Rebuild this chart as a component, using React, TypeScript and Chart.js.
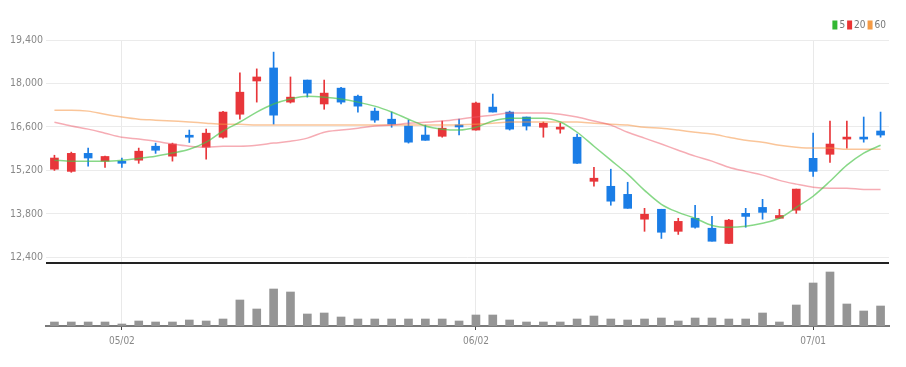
import React, { useEffect, useRef } from 'react';
import { Chart, registerables } from 'chart.js';

Chart.register(...registerables);

// ---- data ----
const dates = [
  '04/26', '04/27', '04/28', '04/29', '05/02', '05/03', '05/04', '05/06', '05/09', '05/10',
  '05/11', '05/12', '05/13', '05/16', '05/17', '05/18', '05/19', '05/20', '05/23', '05/24',
  '05/25', '05/26', '05/27', '05/30', '05/31', '06/02', '06/03', '06/07', '06/08', '06/09',
  '06/10', '06/13', '06/14', '06/15', '06/16', '06/17', '06/20', '06/21', '06/22', '06/23',
  '06/24', '06/27', '06/28', '06/29', '06/30', '07/01', '07/04', '07/05', '07/06', '07/07',
];
const shownDates = ['05/02', '06/02', '07/01'];
const priceTicks = [12400, 13800, 15200, 16600, 18000, 19400];

const open = [15240, 15170, 15750, 15500, 15500, 15530, 15980, 15660, 16320, 15950, 16270, 17010, 18080, 18500, 17400, 18110, 17340, 17850, 17590, 17110, 16850, 16630, 16340, 16300, 16660, 16500, 17240, 17080, 16920, 16590, 16530, 16270, 14850, 14690, 14430, 13630, 13950, 13240, 13660, 13340, 12850, 13820, 14010, 13660, 13920, 15590, 15720, 16210, 16270, 16470];
const high = [15690, 15790, 15920, 15660, 15600, 15920, 16080, 16080, 16500, 16530, 17100, 18340, 18470, 19010, 18210, 18110, 18110, 17880, 17630, 17210, 17080, 16820, 16660, 16790, 16850, 17400, 17660, 17110, 16920, 16760, 16720, 16370, 15300, 15240, 14820, 13980, 13950, 13660, 14080, 13720, 13630, 13980, 14270, 13950, 14600, 16400, 16790, 16790, 16920, 17080];
const low = [15200, 15140, 15340, 15300, 15300, 15430, 15750, 15500, 16100, 15560, 16240, 16850, 17400, 16690, 17370, 17560, 17170, 17340, 17080, 16750, 16590, 16080, 16170, 16270, 16340, 16500, 17080, 16500, 16500, 16270, 16400, 15430, 14690, 14080, 13980, 13240, 13010, 13140, 13340, 12920, 12850, 13370, 13630, 13660, 13820, 15010, 15460, 15920, 16110, 16270];
const close = [15600, 15750, 15600, 15650, 15430, 15820, 15850, 16050, 16270, 16400, 17080, 17720, 18210, 16980, 17560, 17690, 17690, 17400, 17270, 16820, 16690, 16110, 16170, 16560, 16600, 17370, 17080, 16530, 16630, 16720, 16590, 15430, 14950, 14210, 13980, 13790, 13210, 13560, 13370, 12920, 13600, 13720, 13850, 13750, 14600, 15170, 16050, 16270, 16210, 16340];

const ma5 = [15530, 15500, 15500, 15500, 15530, 15590, 15660, 15760, 15880, 16110, 16470, 16760, 17080, 17340, 17500, 17590, 17560, 17500, 17400, 17270, 17080, 16850, 16630, 16530, 16500, 16590, 16790, 16880, 16880, 16880, 16760, 16430, 15980, 15530, 15080, 14560, 14110, 13850, 13660, 13430, 13370, 13400, 13500, 13660, 14010, 14370, 14850, 15370, 15760, 16010];
const ma20 = [16750, 16630, 16530, 16400, 16270, 16210, 16140, 16050, 15980, 15950, 15980, 15980, 16010, 16080, 16140, 16240, 16430, 16500, 16560, 16630, 16660, 16720, 16750, 16790, 16850, 16920, 16980, 17050, 17050, 17050, 17010, 16920, 16790, 16660, 16430, 16240, 16050, 15850, 15660, 15500, 15300, 15170, 15050, 14880, 14760, 14660, 14630, 14630, 14590, 14590];
const ma60 = [17140, 17140, 17110, 17010, 16920, 16850, 16820, 16790, 16760, 16720, 16690, 16690, 16660, 16660, 16660, 16660, 16660, 16660, 16660, 16660, 16660, 16660, 16660, 16660, 16670, 16690, 16720, 16760, 16760, 16760, 16760, 16760, 16720, 16690, 16660, 16590, 16560, 16500, 16430, 16370, 16270, 16170, 16110, 16010, 15950, 15920, 15920, 15880, 15880, 15880];

const volumeK = [40, 40, 40, 40, 20, 50, 40, 40, 60, 50, 70, 260, 170, 370, 340, 120, 130, 90, 70, 70, 70, 70, 70, 70, 50, 110, 110, 60, 40, 40, 40, 70, 100, 70, 60, 70, 80, 50, 80, 80, 70, 70, 130, 40, 210, 430, 540, 220, 150, 200];

const maLabels = ['5', '20', '60'];

// ---- styles ----
const UP = '#e8363a';
const DOWN = '#1a7de6';
const FONT = '"DejaVu Sans Condensed", "Liberation Sans", sans-serif';
const LEGEND_COLORS = ['#33b833', '#ea3434', '#f59b45'];
const LINE_COLORS = ['rgba(70,195,70,0.65)', 'rgba(238,90,105,0.5)', 'rgba(245,150,70,0.55)'];

const dividerPlugin = {
  id: 'divider',
  afterDraw(chart: any) {
    const { ctx, chartArea } = chart;
    const y = chart.scales.y.bottom;
    ctx.save();
    ctx.strokeStyle = '#222';
    ctx.lineWidth = 2;
    ctx.beginPath();
    ctx.moveTo(chartArea.left, y);
    ctx.lineTo(chartArea.right, y);
    ctx.stroke();
    ctx.restore();
  },
};

const legendPlugin = {
  id: 'maLegend',
  afterDraw(chart: any) {
    const ctx = chart.ctx;
    ctx.save();
    ctx.font = '10px ' + FONT;
    ctx.textBaseline = 'middle';
    ctx.textAlign = 'left';
    let x = chart.chartArea.right - 3;
    const y = 25;
    for (let k = maLabels.length - 1; k >= 0; k--) {
      const w = ctx.measureText(maLabels[k]).width;
      x -= w;
      ctx.fillStyle = '#777';
      ctx.fillText(maLabels[k], x, y);
      x -= 2 + 5;
      ctx.fillStyle = LEGEND_COLORS[k];
      ctx.fillRect(x, y - 4.5, 5, 9);
      x -= 2;
    }
    ctx.restore();
  },
};

export default function App() {
  const ref = useRef<HTMLCanvasElement | null>(null);

  useEffect(() => {
    if (!ref.current) return;
    const candleColors = open.map((o, i) => (close[i] >= o ? UP : DOWN));
    const chart = new Chart(ref.current, {
      type: 'bar',
      data: {
        labels: dates,
        datasets: [
          { type: 'line', label: maLabels[0], data: ma5, yAxisID: 'y', borderColor: LINE_COLORS[0], borderWidth: 1.5, pointRadius: 0, tension: 0.4, cubicInterpolationMode: 'monotone', fill: false, order: 0 } as any,
          { type: 'line', label: maLabels[1], data: ma20, yAxisID: 'y', borderColor: LINE_COLORS[1], borderWidth: 1.5, pointRadius: 0, tension: 0.4, cubicInterpolationMode: 'monotone', fill: false, order: 0 } as any,
          { type: 'line', label: maLabels[2], data: ma60, yAxisID: 'y', borderColor: LINE_COLORS[2], borderWidth: 1.5, pointRadius: 0, tension: 0.4, cubicInterpolationMode: 'monotone', fill: false, order: 0 } as any,
          { type: 'bar', label: 'body', data: open.map((o, i) => [o, close[i]]), yAxisID: 'y', backgroundColor: candleColors, barThickness: 8, grouped: false, minBarLength: 2, order: 1 } as any,
          { type: 'bar', label: 'wick', data: low.map((l, i) => [l, high[i]]), yAxisID: 'y', backgroundColor: candleColors, barThickness: 1, grouped: false, order: 2 } as any,
          { type: 'bar', label: 'volume', data: volumeK, yAxisID: 'yv', backgroundColor: '#959595', barThickness: 8, grouped: false, order: 3 } as any,
        ],
      },
      options: {
        responsive: false,
        animation: false,
        events: [],
        devicePixelRatio: 1,
        layout: { padding: { left: 0, top: 40, right: 17, bottom: 15 } },
        plugins: { legend: { display: false }, tooltip: { enabled: false } },
        scales: {
          x: {
            type: 'category',
            offset: true,
            grid: {
              offset: false,
              drawTicks: true,
              tickLength: 4,
              color: (c: any) => (shownDates.includes(dates[c.index]) ? '#e9e9e9' : 'rgba(0,0,0,0)'),
              tickColor: (c: any) => (shownDates.includes(dates[c.index]) ? '#444' : 'rgba(0,0,0,0)'),
            },
            border: { display: true, color: '#7a7a7a', width: 2 },
            ticks: {
              autoSkip: false,
              maxRotation: 0,
              padding: 5,
              color: '#888',
              font: { family: FONT, size: 10 },
              callback: (_v: any, i: number) => (shownDates.includes(dates[i]) ? dates[i] : ''),
            },
          },
          y: {
            type: 'linear',
            position: 'left',
            stack: 'panes',
            stackWeight: 223,
            weight: 2,
            min: 12220,
            max: 19400,
            afterBuildTicks: (s: any) => {
              s.ticks = priceTicks.map((v) => ({ value: v }));
            },
            afterFit: (s: any) => {
              s.width = 46;
            },
            grid: { color: '#ebebeb', drawTicks: false },
            border: { display: false },
            ticks: {
              padding: 3,
              color: '#888',
              font: { family: FONT, size: 10.5 },
              callback: (v: any) => Number(v).toLocaleString('en-US'),
            },
          },
          yv: {
            type: 'linear',
            position: 'left',
            stack: 'panes',
            stackWeight: 63,
            weight: 1,
            min: 0,
            max: 630,
            afterFit: (s: any) => {
              s.width = 46;
            },
            grid: { display: false, drawTicks: false },
            border: { display: false },
            ticks: { display: false },
          },
        },
      } as any,
      plugins: [dividerPlugin, legendPlugin],
    });
    return () => chart.destroy();
  }, []);

  return (
    <div style={{ position: 'absolute', left: 0, top: 0, width: 906, height: 367, background: '#fff' }}>
      <canvas ref={ref} width={906} height={367} style={{ display: 'block', width: 906, height: 367 }} />
    </div>
  );
}
